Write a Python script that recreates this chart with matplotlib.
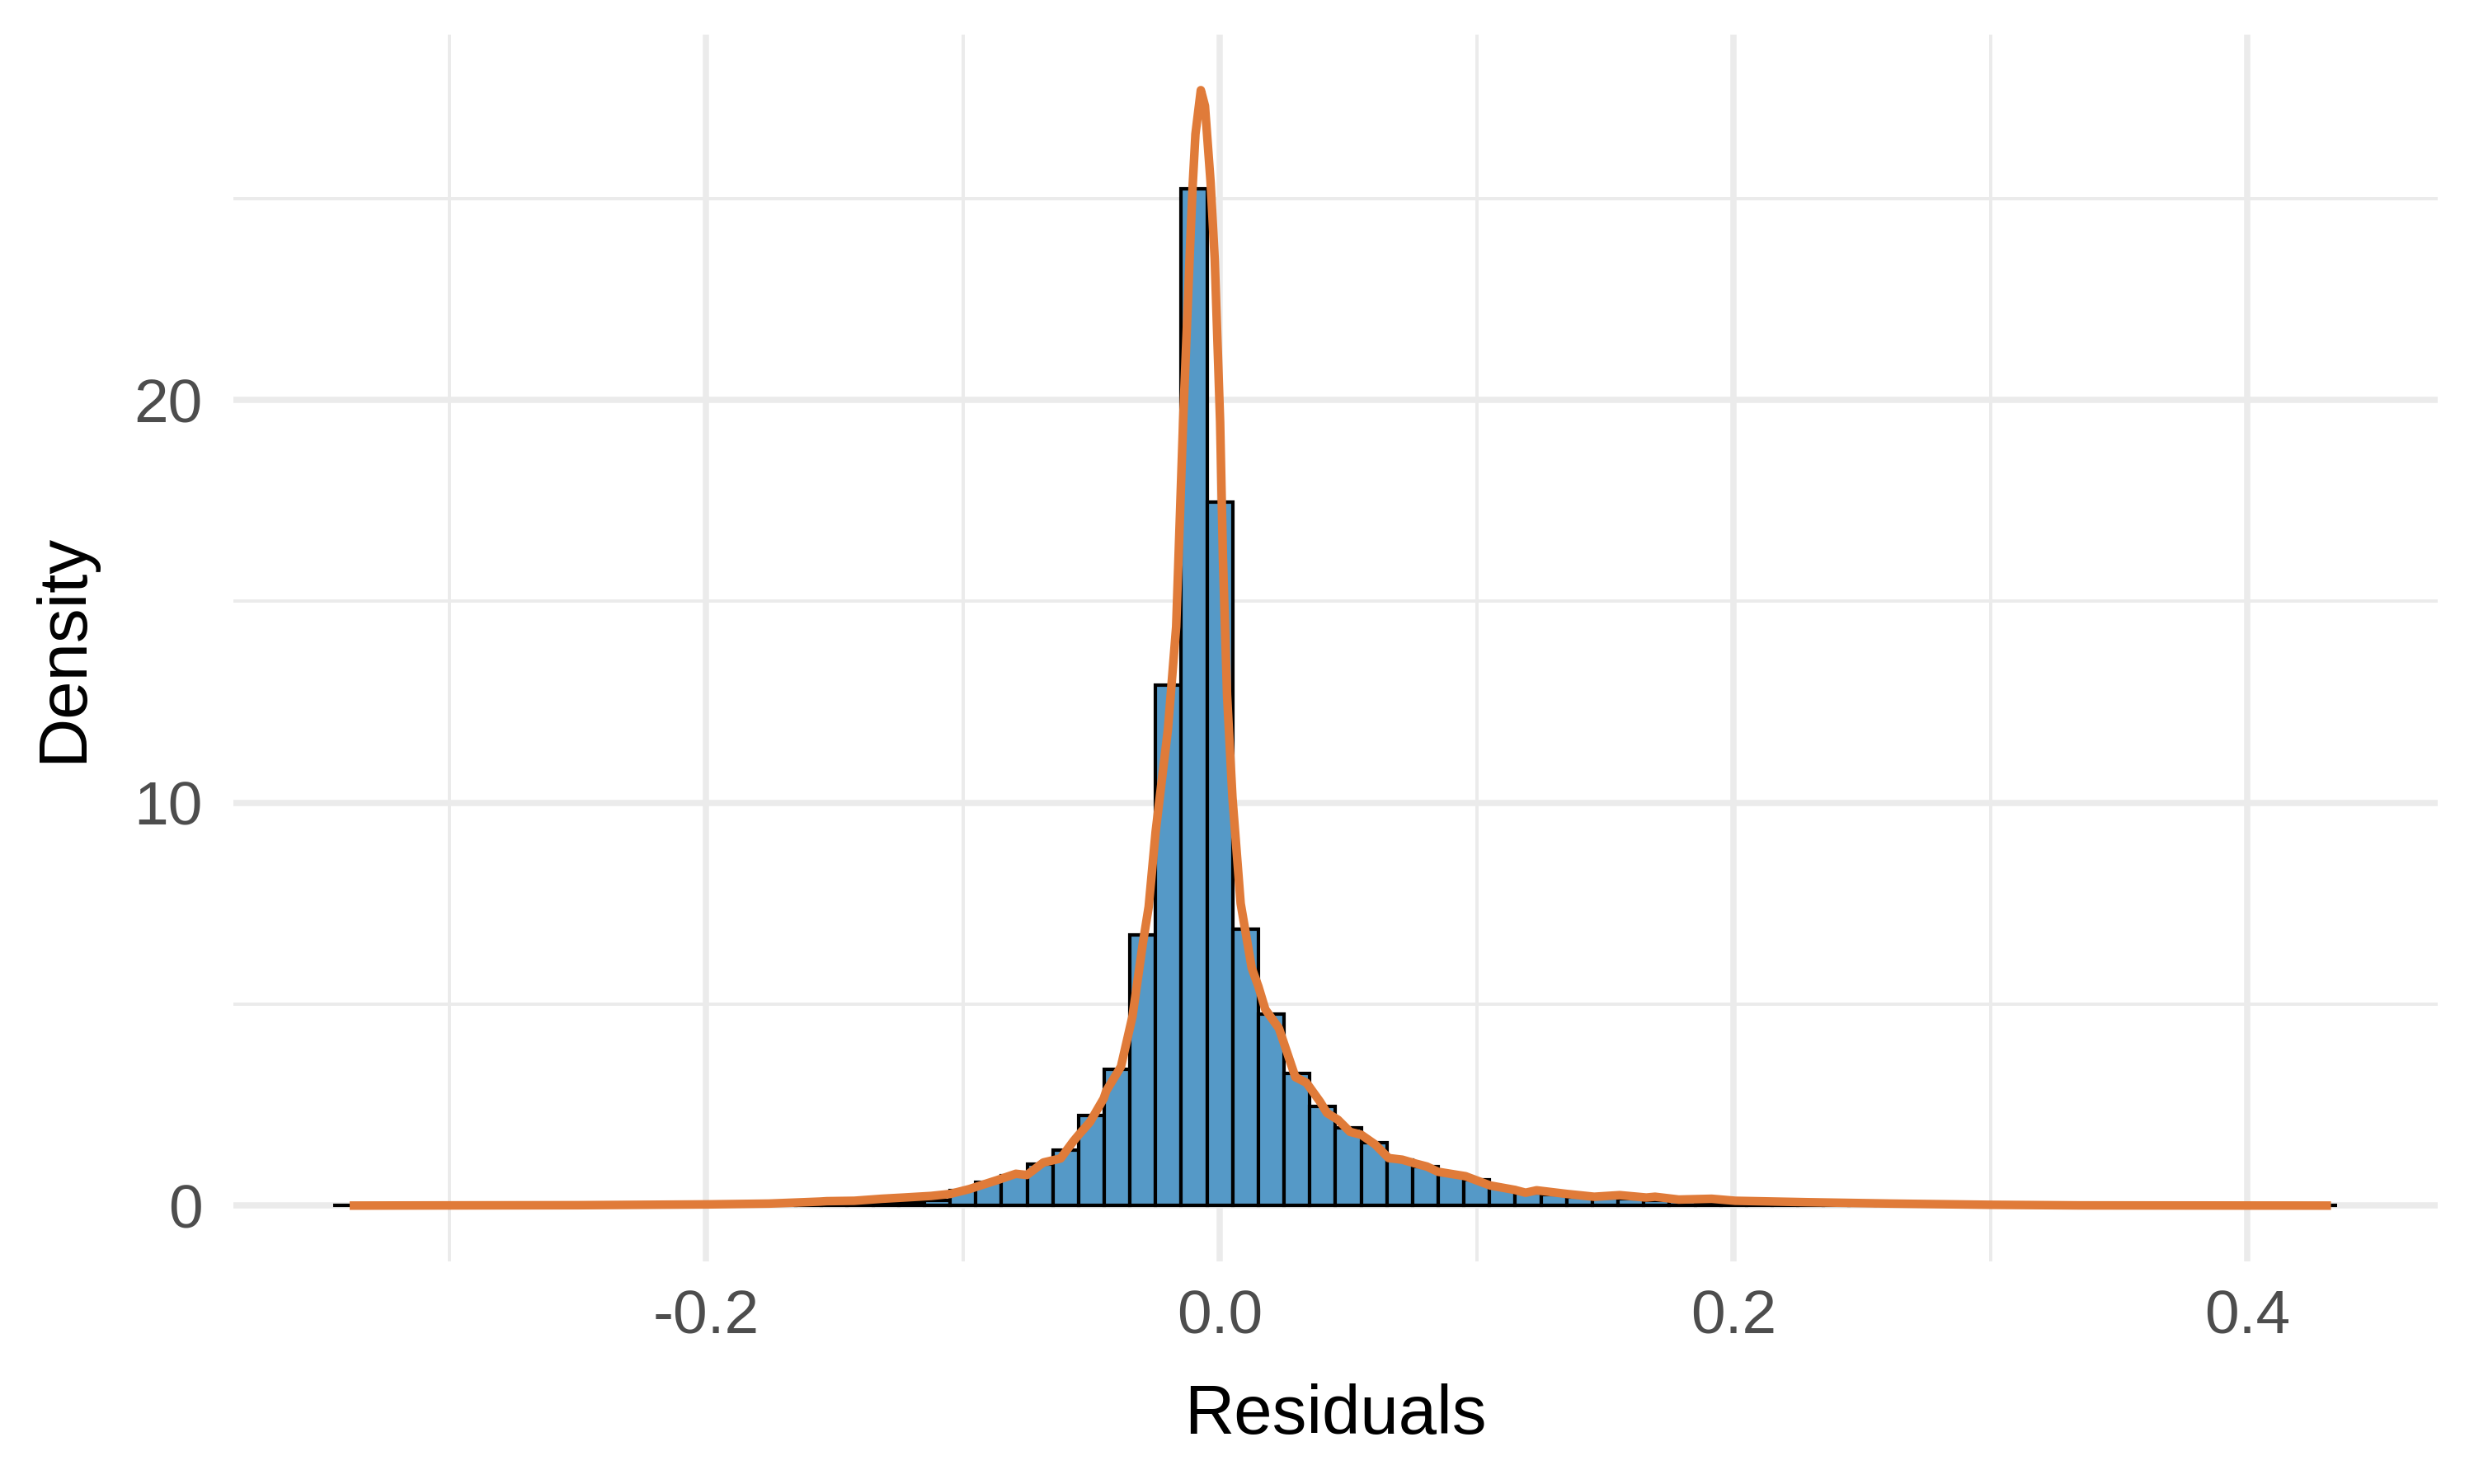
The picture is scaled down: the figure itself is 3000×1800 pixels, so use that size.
import numpy as np
import matplotlib
matplotlib.use("Agg")
import matplotlib.pyplot as plt

# Histogram (density scale), binwidth 0.01, bins centred on multiples of 0.01
bin_centers = np.round(np.arange(-0.34, 0.4301, 0.01), 2)
bin_heights = [
    # -0.34 .. -0.25
    0.004, 0.004, 0.004, 0.005, 0.005, 0.005, 0.006, 0.006, 0.007, 0.008,
    # -0.24 .. -0.15
    0.009, 0.010, 0.012, 0.014, 0.017, 0.020, 0.025, 0.030, 0.038, 0.048,
    # -0.14 .. -0.05
    0.06, 0.07, 0.09, 0.12, 0.38, 0.57, 0.75, 1.02, 1.37, 2.23,
    # -0.04 .. 0.05
    3.39, 6.72, 12.92, 25.25, 17.46, 6.86, 4.75, 3.28, 2.47, 1.93,
    # 0.06 .. 0.15
    1.57, 1.14, 0.96, 0.77, 0.64, 0.43, 0.32, 0.27, 0.22, 0.19,
    # 0.16 .. 0.25
    0.17, 0.12, 0.10, 0.08, 0.07, 0.06, 0.05, 0.05, 0.04, 0.04,
    # 0.26 .. 0.35
    0.03, 0.03, 0.025, 0.02, 0.02, 0.015, 0.012, 0.010, 0.008, 0.007,
    # 0.36 .. 0.43
    0.006, 0.005, 0.005, 0.004, 0.004, 0.004, 0.003, 0.003,
]
bin_width = 0.01

# Kernel density curve
dens_x = [-0.3387, -0.30, -0.25, -0.1995, -0.1755, -0.1555, -0.153, -0.1423,
          -0.1316, -0.1231, -0.1124, -0.105, -0.0975, -0.0932, -0.0868, -0.0794,
          -0.0751, -0.0687, -0.062, -0.057, -0.0549, -0.0506, -0.0452, -0.0442,
          -0.0385, -0.034, -0.030, -0.0277, -0.025, -0.0202, -0.017, -0.0143,
          -0.0116, -0.0106, -0.0095, -0.0074, -0.0058, -0.0036, -0.0020, 0.0001,
          0.0012, 0.0028, 0.0049, 0.0081, 0.0124, 0.015, 0.0177, 0.023, 0.0294,
          0.0337, 0.039, 0.0417, 0.046, 0.0507, 0.055, 0.0604, 0.0657, 0.071,
          0.0764, 0.0806, 0.0849, 0.0956, 0.1052, 0.1148, 0.119, 0.1233, 0.135,
          0.1457, 0.1556, 0.166, 0.1694, 0.1786, 0.1914, 0.2006, 0.2282, 0.2612,
          0.30, 0.335, 0.4325]
dens_y = [0.0, 0.005, 0.01, 0.03, 0.05, 0.10, 0.11, 0.12,
          0.17, 0.20, 0.24, 0.29, 0.41, 0.50, 0.63, 0.79,
          0.76, 1.07, 1.17, 1.6, 1.76, 2.07, 2.66, 2.85,
          3.45, 4.7, 6.5, 7.42, 9.28, 11.83, 14.37, 19.46,
          23.8, 25.3, 26.6, 27.69, 27.3, 25.4, 23.5, 19.46,
          16.07, 12.68, 10.13, 7.5, 5.9, 5.44, 4.87, 4.4, 3.19,
          3.05, 2.58, 2.30, 2.13, 1.83, 1.76, 1.52, 1.18, 1.14,
          1.04, 0.97, 0.84, 0.73, 0.50, 0.39, 0.32, 0.38, 0.29,
          0.22, 0.26, 0.20, 0.22, 0.15, 0.17, 0.12, 0.085, 0.05,
          0.02, 0.005, 0.0]

x_ticks = [-0.2, 0.0, 0.2, 0.4]
x_minor = [-0.3, -0.1, 0.1, 0.3]
y_ticks = [0, 10, 20]
y_minor = [5, 15, 25]

plt.rcParams['font.family'] = ['Liberation Sans', 'DejaVu Sans']

fig = plt.figure(figsize=(10, 6), dpi=300)
ax = fig.add_axes([0.0943, 0.15, 0.891, 0.8267])

grid_col = '#EBEBEB'
for v in x_ticks:
    ax.axvline(v, color=grid_col, linewidth=1.8, zorder=0)
for v in x_minor:
    ax.axvline(v, color=grid_col, linewidth=0.95, zorder=0)
for v in y_ticks:
    ax.axhline(v, color=grid_col, linewidth=1.8, zorder=0)
for v in y_minor:
    ax.axhline(v, color=grid_col, linewidth=0.95, zorder=0)

ax.bar(bin_centers, bin_heights, width=bin_width, color='#5599C7',
       edgecolor='black', linewidth=1.0, zorder=2)
ax.plot(dens_x, dens_y, color='#E07B39', linewidth=2.5, zorder=3,
        solid_joinstyle='round', solid_capstyle='butt')

ax.set_xlim(-0.384, 0.474)
ax.set_ylim(-1.385, 29.07)
ax.set_xticks(x_ticks)
ax.set_xticklabels(['-0.2', '0.0', '0.2', '0.4'])
ax.set_yticks(y_ticks)
ax.tick_params(length=0, labelsize=18, labelcolor='#4D4D4D')
ax.tick_params(axis='x', pad=8)
ax.tick_params(axis='y', pad=9)
for s in ax.spines.values():
    s.set_visible(False)

ax.set_xlabel('Residuals', fontsize=20, labelpad=11)
ax.set_ylabel('Density', fontsize=20, labelpad=11)

fig.savefig('out.png', dpi=300, facecolor='white')
